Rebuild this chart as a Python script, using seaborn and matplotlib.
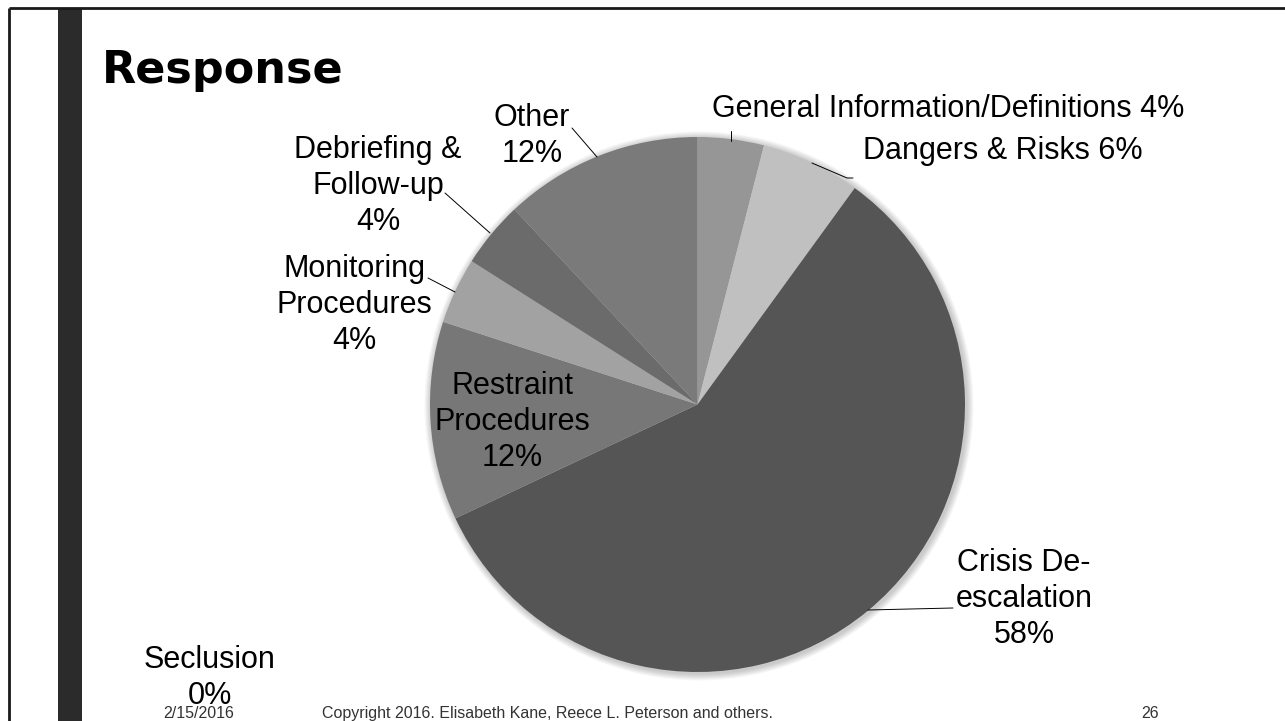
import matplotlib
matplotlib.use("Agg")
import matplotlib.pyplot as plt
import seaborn as sns
from matplotlib.patches import Circle, Rectangle

# DATA
categories = ["General Information/Definitions", "Dangers & Risks", "Crisis De-escalation",
              "Seclusion", "Restraint Procedures", "Monitoring Procedures",
              "Debriefing & Follow-up", "Other"]
shares = [4, 6, 58, 0, 12, 4, 4, 12]
label_text = ["General Information/Definitions 4%", "Dangers & Risks 6%",
              "Crisis De-\nescalation\n58%", "Seclusion\n0%",
              "Restraint\nProcedures\n12%", "Monitoring\nProcedures\n4%",
              "Debriefing &\nFollow-up\n4%", "Other\n12%"]
slice_colors = ["#969696", "#c0c0c0", "#555555", "#8a8a8a",
                "#777777", "#a2a2a2", "#6b6b6b", "#7a7a7a"]

sns.set_theme(style="white")
plt.rcParams["font.family"] = ["Liberation Sans", "DejaVu Sans"]

W, H = 1285, 721
fig = plt.figure(figsize=(W / 100, H / 100), dpi=100)
ax = fig.add_axes([0, 0, 1, 1])

# slide frame and dark side bar
ax.plot([9, W], [8, 8], color="#1a1a1a", lw=2, solid_capstyle="butt")
ax.plot([9, 9], [8, H], color="#1a1a1a", lw=2, solid_capstyle="butt")
ax.add_patch(Rectangle((58, 8), 24, H - 8, color="#2b2b2b", lw=0))

# pie (y axis inverted so screen clockwise = data counterclockwise)
cx, cy, r = 697.5, 404.5, 267.5
for i in range(1, 8):
    ax.add_patch(Circle((cx + 1.5, cy + 1.5), r + i, color="black", alpha=0.03, lw=0, zorder=0))
ax.pie(shares, colors=slice_colors, startangle=-90, counterclock=True,
       center=(cx, cy), radius=r, wedgeprops=dict(linewidth=0), frame=True)

# labels
lab_kw = dict(fontsize=22, color="black", ha="center", va="center", linespacing=1.28)
ax.text(712, 109, label_text[0], **{**lab_kw, "ha": "left"})
ax.text(863, 151, label_text[1], **{**lab_kw, "ha": "left"})
ax.text(1024, 599, label_text[2], **lab_kw)
ax.text(210, 678, label_text[3], **lab_kw)
ax.text(512, 422, label_text[4], **lab_kw)
ax.text(354, 305, label_text[5], **lab_kw)
ax.text(378, 186, label_text[6], **lab_kw)
ax.text(532, 136, label_text[7], **lab_kw)

# leader lines
leaders = [
    [(731, 131), (731, 141)],
    [(812, 163), (847, 178), (853, 178)],
    [(868, 610), (953, 608)],
    [(428, 278), (455, 292)],
    [(445, 193), (490, 233)],
    [(572, 128), (597, 157)],
]
for pts in leaders:
    xs, ys = zip(*pts)
    ax.plot(xs, ys, color="black", lw=0.7)

# title and footer
ax.text(102, 70, "Response", fontsize=32, fontweight="bold", family="DejaVu Sans",
        ha="left", va="center", color="black")
foot_kw = dict(fontsize=11.5, color="#333333", va="baseline")
ax.text(163, 718, "2/15/2016", ha="left", **foot_kw)
ax.text(322, 718, "Copyright 2016. Elisabeth Kane, Reece L. Peterson and others.",
        ha="left", **foot_kw)
ax.text(1150, 718, "26", ha="center", **foot_kw)

ax.set_xlim(0, W)
ax.set_ylim(H, 0)
ax.set_aspect("equal")
ax.axis("off")

fig.savefig("out.png", dpi=100, facecolor="white")
